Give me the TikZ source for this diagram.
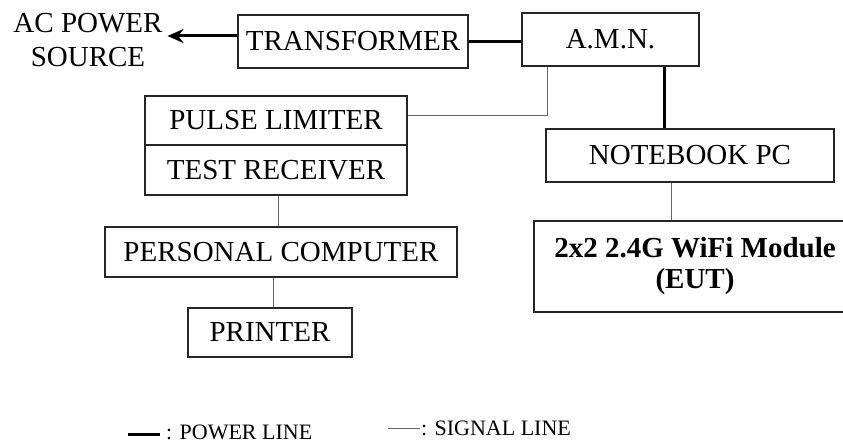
\documentclass[tikz,border=0pt]{standalone}
\usepackage{fontspec}
\setmainfont{Liberation Serif}
\usepackage{tikz}
\usetikzlibrary{arrows.meta}

\begin{document}
\begin{tikzpicture}[x=1pt, y=-1pt, >={Stealth[length=16pt,width=14pt]},
	unit/.style={draw=black!85, line width=1.1pt, inner sep=0pt, font=\fontsize{29}{33}\selectfont},
	power/.style={line width=3pt},
	signal/.style={draw=black!60, line width=1pt},
	key/.style={anchor=west, inner sep=0pt, font=\fontsize{22}{26}\selectfont}]

\useasboundingbox (0,0) rectangle (843,446);

\node at (88,40) [inner sep=0pt, outer sep=5pt, align=center, font=\fontsize{29}{34}\selectfont] (acsrc) {AC POWER\\SOURCE};
\node at (353,41.5) [unit, minimum width=230pt, minimum height=53pt] (trans) {TRANSFORMER};
\node at (610.5,39.5) [unit, minimum width=177pt, minimum height=53pt] (amn) {A.M.N.};

\node at (276,120.5) [unit, minimum width=262pt, minimum height=49pt] (pulse) {PULSE LIMITER};
\node at (276,170) [unit, minimum width=262pt, minimum height=50pt] (rcvr) {TEST RECEIVER};
\node at (281,252) [unit, minimum width=352pt, minimum height=50pt] (pc) {PERSONAL COMPUTER};
\node at (270,332.5) [unit, minimum width=164pt, minimum height=49pt] (printer) {PRINTER};

\node at (690,155.5) [unit, minimum width=288pt, minimum height=53pt] (nb) {NOTEBOOK PC};
\node at (695,266.5) [unit, minimum width=322pt, minimum height=91pt, align=center, font=\fontsize{29}{31}\selectfont\bfseries] (eut) {2x2 2.4G WiFi Module\\(EUT)};

\draw[power,->] ([yshift=5.5pt]trans.west) -- ([yshift=5.5pt]trans.west -| acsrc.east);
\draw[power] (trans.east) -- (trans.east -| amn.west);
\draw[power] ([xshift=53.5pt]amn.south) -- ([xshift=53.5pt]amn.south |- nb.north);

\draw[signal] ([yshift=4.5pt]pulse.east) -| ([xshift=-63.5pt]amn.south);
\draw[signal] ([xshift=-19pt]nb.south) -- ([xshift=-19pt]nb.south |- eut.north);
\draw[signal] ([xshift=2pt]rcvr.south) -- ([xshift=2pt]rcvr.south |- pc.north);
\draw[signal] ([xshift=3pt]printer.north) -- ([xshift=3pt]printer.north |- pc.south);

\node at (166,432) [key] (pwrkey) {: POWER LINE};
\node at (421,428) [key] (sigkey) {: SIGNAL LINE};
\draw[power] ([xshift=-6pt,yshift=-2pt]pwrkey.west) -- ++(-32,0);
\draw[signal] ([xshift=-1pt]sigkey.west) -- ++(-32,0);

\end{tikzpicture}
\end{document}
